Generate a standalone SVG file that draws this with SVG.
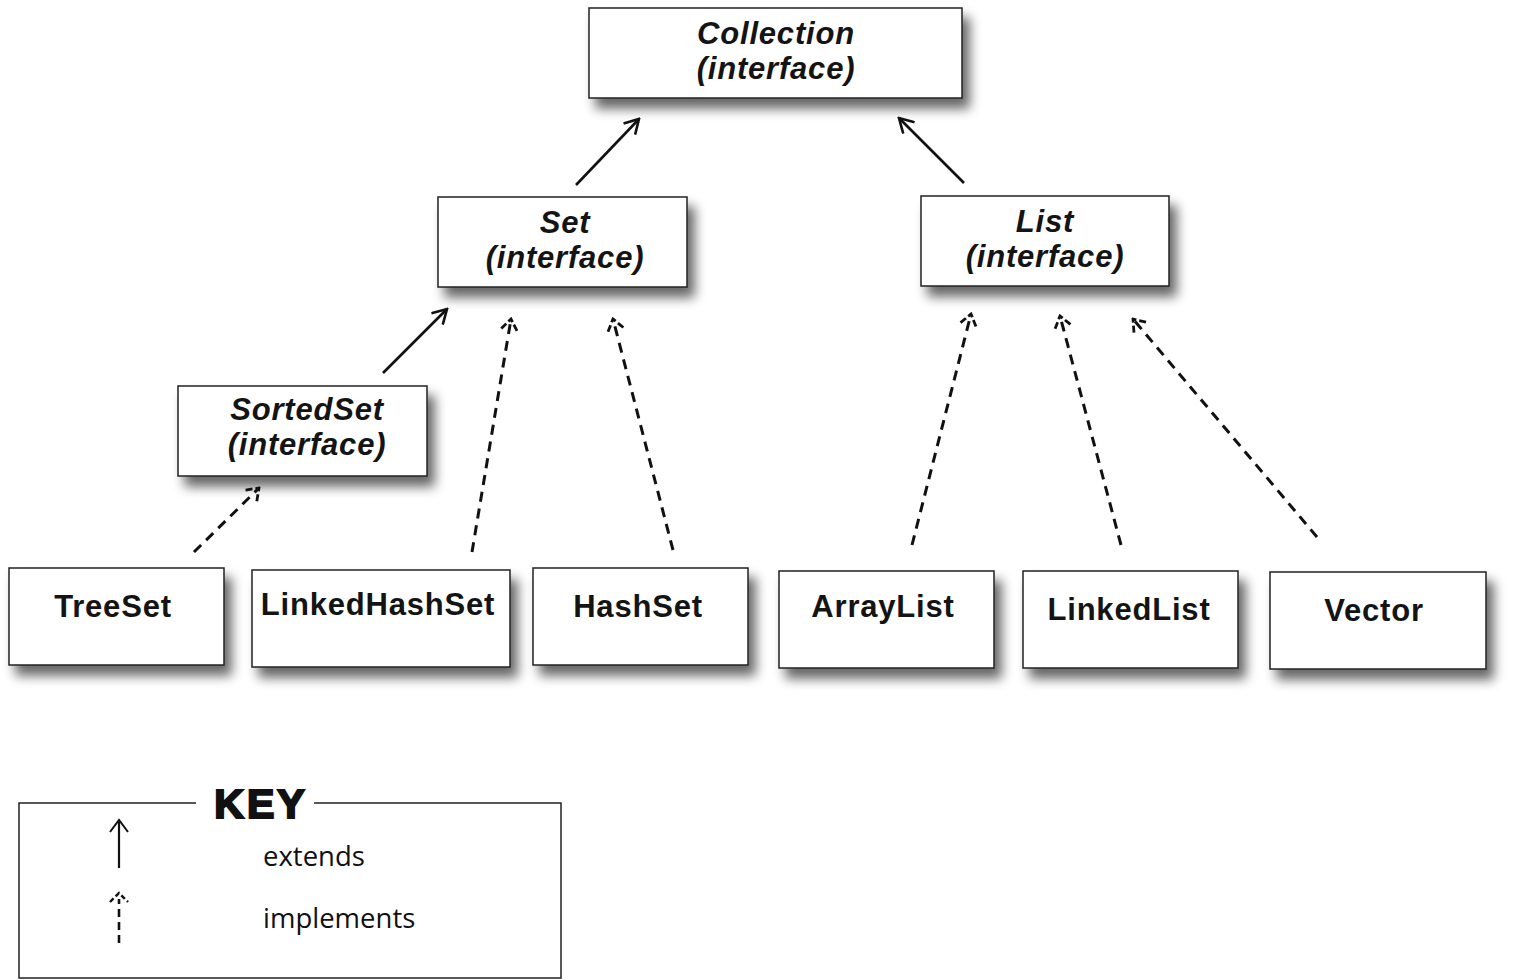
<svg xmlns="http://www.w3.org/2000/svg" width="1514" height="980" viewBox="0 0 1514 980">
<defs>
<filter id="sh" x="-10%" y="-20%" width="130%" height="160%">
<feGaussianBlur in="SourceAlpha" stdDeviation="6"/>
<feOffset dx="7" dy="10" result="b"/>
<feComponentTransfer><feFuncA type="linear" slope="0.6"/></feComponentTransfer>
<feMerge><feMergeNode/><feMergeNode in="SourceGraphic"/></feMerge>
</filter>
<marker id="ah" viewBox="-16 -9 18 18" markerWidth="18" markerHeight="18" refX="0" refY="0" orient="auto" markerUnits="userSpaceOnUse">
<path d="M -14 -8 L 0 0 L -14 8" fill="none" stroke="#111" stroke-width="2.6"/>
</marker>
<marker id="ahd" viewBox="-14 -10 16 20" markerWidth="16" markerHeight="20" refX="0" refY="0" orient="auto" markerUnits="userSpaceOnUse">
<path d="M -11 -8 L 0 0 L -11 8" fill="none" stroke="#111" stroke-width="2.8" stroke-dasharray="7 3"/>
</marker>
<style>
.box{fill:#fff;stroke:#222;stroke-width:1.5}
.t{font-family:"Liberation Sans",Arial,sans-serif;font-weight:bold;font-size:31px;letter-spacing:0.8px;fill:#141414;text-anchor:middle}
.i{font-style:italic}
.ext{fill:none;stroke:#111;stroke-width:2.6}
.imp{fill:none;stroke:#111;stroke-width:3;stroke-dasharray:10 7}
.k{font-family:"Open Sans","Liberation Sans",sans-serif;font-size:27.5px;fill:#111}
</style>
</defs>
<rect width="1514" height="980" fill="#fff"/>

<g id="collection">
<rect class="box" x="589" y="8" width="373" height="90" filter="url(#sh)"/>
<text class="t i" x="776" y="44">Collection</text>
<text class="t i" x="776" y="79">(interface)</text>
</g>
<g id="set">
<rect class="box" x="438" y="197" width="249" height="90" filter="url(#sh)"/>
<text class="t i" x="565" y="233">Set</text>
<text class="t i" x="565" y="268">(interface)</text>
</g>
<g id="list">
<rect class="box" x="921" y="196" width="248" height="90" filter="url(#sh)"/>
<text class="t i" x="1045" y="232">List</text>
<text class="t i" x="1045" y="267">(interface)</text>
</g>
<g id="sortedset">
<rect class="box" x="178" y="386" width="249" height="90" filter="url(#sh)"/>
<text class="t i" x="307" y="420">SortedSet</text>
<text class="t i" x="307" y="455">(interface)</text>
</g>
<g id="treeset">
<rect class="box" x="9" y="568" width="215" height="97" filter="url(#sh)"/>
<text class="t" x="113" y="617">TreeSet</text>
</g>
<g id="linkedhashset">
<rect class="box" x="252" y="570" width="258" height="97" filter="url(#sh)"/>
<text class="t" x="378" y="615">LinkedHashSet</text>
</g>
<g id="hashset">
<rect class="box" x="533" y="568" width="215" height="97" filter="url(#sh)"/>
<text class="t" x="638" y="617">HashSet</text>
</g>
<g id="arraylist">
<rect class="box" x="779" y="571" width="215" height="97" filter="url(#sh)"/>
<text class="t" x="883" y="617">ArrayList</text>
</g>
<g id="linkedlist">
<rect class="box" x="1023" y="571" width="215" height="97" filter="url(#sh)"/>
<text class="t" x="1129" y="620">LinkedList</text>
</g>
<g id="vector">
<rect class="box" x="1270" y="572" width="216" height="97" filter="url(#sh)"/>
<text class="t" x="1374" y="621">Vector</text>
</g>

<g id="connectors">
<line class="ext" x1="576" y1="185" x2="639" y2="119" marker-end="url(#ah)"/>
<line class="ext" x1="964" y1="183" x2="899" y2="118" marker-end="url(#ah)"/>
<line class="ext" x1="383" y1="373" x2="447" y2="309" marker-end="url(#ah)"/>
<line class="imp" x1="194" y1="552" x2="259" y2="488" marker-end="url(#ahd)"/>
<line class="imp" x1="472" y1="552" x2="511" y2="319" marker-end="url(#ahd)"/>
<line class="imp" x1="673" y1="550" x2="613" y2="319" marker-end="url(#ahd)"/>
<line class="imp" x1="912" y1="545" x2="971" y2="314" marker-end="url(#ahd)"/>
<line class="imp" x1="1121" y1="545" x2="1060" y2="316" marker-end="url(#ahd)"/>
<line class="imp" x1="1317" y1="537" x2="1133" y2="319" marker-end="url(#ahd)"/>
</g>

<g id="key">
<rect x="19" y="803" width="542" height="175" fill="#fff" stroke="#222" stroke-width="1.5"/>
<rect x="196" y="790" width="118" height="20" fill="#fff"/>
<text x="261" y="818" font-family="Liberation Sans, Arial, sans-serif" font-weight="900" font-size="41" text-anchor="middle" fill="#111" stroke="#111" stroke-width="2.2" letter-spacing="3">KEY</text>
<line x1="119" y1="868" x2="119" y2="822" stroke="#111" stroke-width="2.2"/>
<path d="M 110 832 L 119 820 L 128 832" fill="none" stroke="#111" stroke-width="2"/>
<text class="k" x="263" y="866">extends</text>
<line x1="119" y1="943" x2="119" y2="899" stroke="#111" stroke-width="2.6" stroke-dasharray="8 5"/>
<path d="M 110 902 L 119 893 L 128 902" fill="none" stroke="#111" stroke-width="2.4" stroke-dasharray="5 3"/>
<text class="k" x="263" y="928">implements</text>
</g>
</svg>
